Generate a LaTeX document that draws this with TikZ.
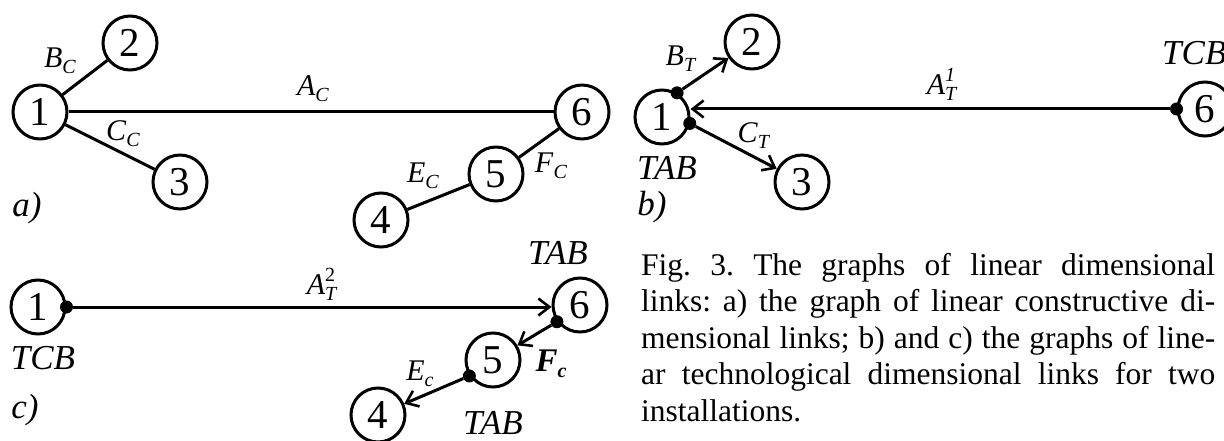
\documentclass[tikz,border=0pt]{standalone}
\usepackage{fontspec}
\setmainfont{Liberation Serif}
\usetikzlibrary{arrows.meta}
\frenchspacing

% italic letter with an italic subscript
\newcommand\isub[2]{\textit{#1}\raisebox{-6pt}{\fontsize{20}{20}\selectfont\textit{#2}}}
% italic letter with stacked subscript and superscript
\newcommand\isubsup[3]{\textit{#1}\makebox[0pt][l]{\raisebox{-6pt}{\fontsize{20}{20}\selectfont\textit{#2}}}\raisebox{13pt}{\fontsize{20}{20}\selectfont #3}}

\tikzset{
  vtx/.style={circle, draw, line width=3pt, minimum size=54pt, inner sep=0pt,
              font=\fontsize{41}{41}\selectfont},
  link/.style={line width=3pt},
  dlink/.style={line width=3pt, -{Straight Barb[length=11pt,width=17pt,line width=2.6pt]}},
  elab/.style={inner sep=0pt, font=\fontsize{30}{30}\selectfont},
  blab/.style={inner sep=0pt, font=\fontsize{35}{35}\selectfont\itshape},
  dot/.style={circle, fill, inner sep=0pt, minimum size=13pt},
  capline/.style={inner sep=0pt, anchor=base west, font=\fontsize{31.5}{36.6}\selectfont}
}

\begin{document}
\begin{tikzpicture}[x=1pt, y=-1pt]
\useasboundingbox (0,0) rectangle (1224,441);

% ---- a) constructive links ----
\node[vtx] (a1) at (40,112) {1};
\node[vtx] (a2) at (130,43) {2};
\node[vtx] (a3) at (180,182) {3};
\node[vtx] (a6) at (582,112) {6};
\node[vtx] (a5) at (496,174) {5};
\node[vtx] (a4) at (381,220) {4};
\draw[link] (a1) -- (a2);
\draw[link] (a1) -- (a3);
\draw[link] (a1) -- (a6);
\draw[link] (a6) -- (a5);
\draw[link] (a5) -- (a4);
\node[elab] (lbc) at (60,61) {\isub{B}{C}};
\node[elab] (lac) at (313,89) {\isub{A}{C}};
\node[elab] (lcc) at (123,134) {\isub{C}{C}};
\node[elab] (lec) at (423,176) {\isub{E}{C}};
\node[elab] (lfc) at (551,166) {\isub{F}{C}};
\node[blab] (pa) at (27,208) {a)};

% ---- b) technological links, first installation ----
\node[vtx] (b1) at (662,117) {1};
\node[vtx] (b2) at (752,42) {2};
\node[vtx] (b3) at (802,182) {3};
\node[vtx] (b6) at (1205,109) {6};
\node[dot] (bd1) at (b1.58) {};
\node[dot] (bd2) at (b1.-13) {};
\node[dot] (bd6) at (b6.west) {};
\draw[dlink] (bd1) -- (b2);
\draw[dlink] (bd2) -- (b3);
\draw[dlink] (bd6) -- (bd6 -| b1.east);
\node[elab] (lbt) at (681,59) {\isub{B}{T}};
\node[elab] (lct) at (754,136) {\isub{C}{T}};
\node[elab] (lat1) at (941,84) {\isubsup{A}{T}{\textit{1}}};
\node[blab] (tab1) at (667,168) {TAB};
\node[blab, anchor=west] (tcb1) at (1162,53) {TCB};
\node[blab] (pb) at (652,207) {b)};

% ---- c) technological links, second installation ----
\node[vtx] (c1) at (38,307) {1};
\node[vtx] (c6) at (580,305) {6};
\node[vtx] (c5) at (493,360) {5};
\node[vtx] (c4) at (378,415) {4};
\node[dot] (cd1) at (c1.east) {};
\node[dot] (cd6) at (c6.216) {};
\node[dot] (cd5) at (c5.214) {};
\draw[dlink] (cd1) -- (cd1 -| c6.west);
\draw[dlink] (cd6) -- (c5);
\draw[dlink] (cd5) -- (c4);
\node[elab] (lat2) at (321,284) {\isubsup{A}{T}{2}};
\node[elab] (lec2) at (420,374) {\isub{E}{c}};
\node[elab, font=\fontsize{33}{33}\selectfont\bfseries] (lfc2) at (551,364) {\isub{F}{c}};
\node[blab] (tab2) at (558,253) {TAB};
\node[blab] (tab3) at (493,423) {TAB};
\node[blab] (tcb2) at (43,358) {TCB};
\node[blab] (pc) at (25,410) {c)};

% ---- caption ----
\node[capline] (cap1) at (641,275) {\makebox[574pt][s]{Fig. 3. The graphs of linear dimensional}};
\node[capline] (cap2) at (641,311.6) {\makebox[574pt][s]{links: a) the graph of linear constructive di-}};
\node[capline] (cap3) at (641,348.2) {\makebox[574pt][s]{mensional links; b) and c) the graphs of line-}};
\node[capline] (cap4) at (641,384.8) {\makebox[574pt][s]{ar technological dimensional links for two}};
\node[capline] (cap5) at (641,421.4) {installations.};
\end{tikzpicture}
\end{document}
